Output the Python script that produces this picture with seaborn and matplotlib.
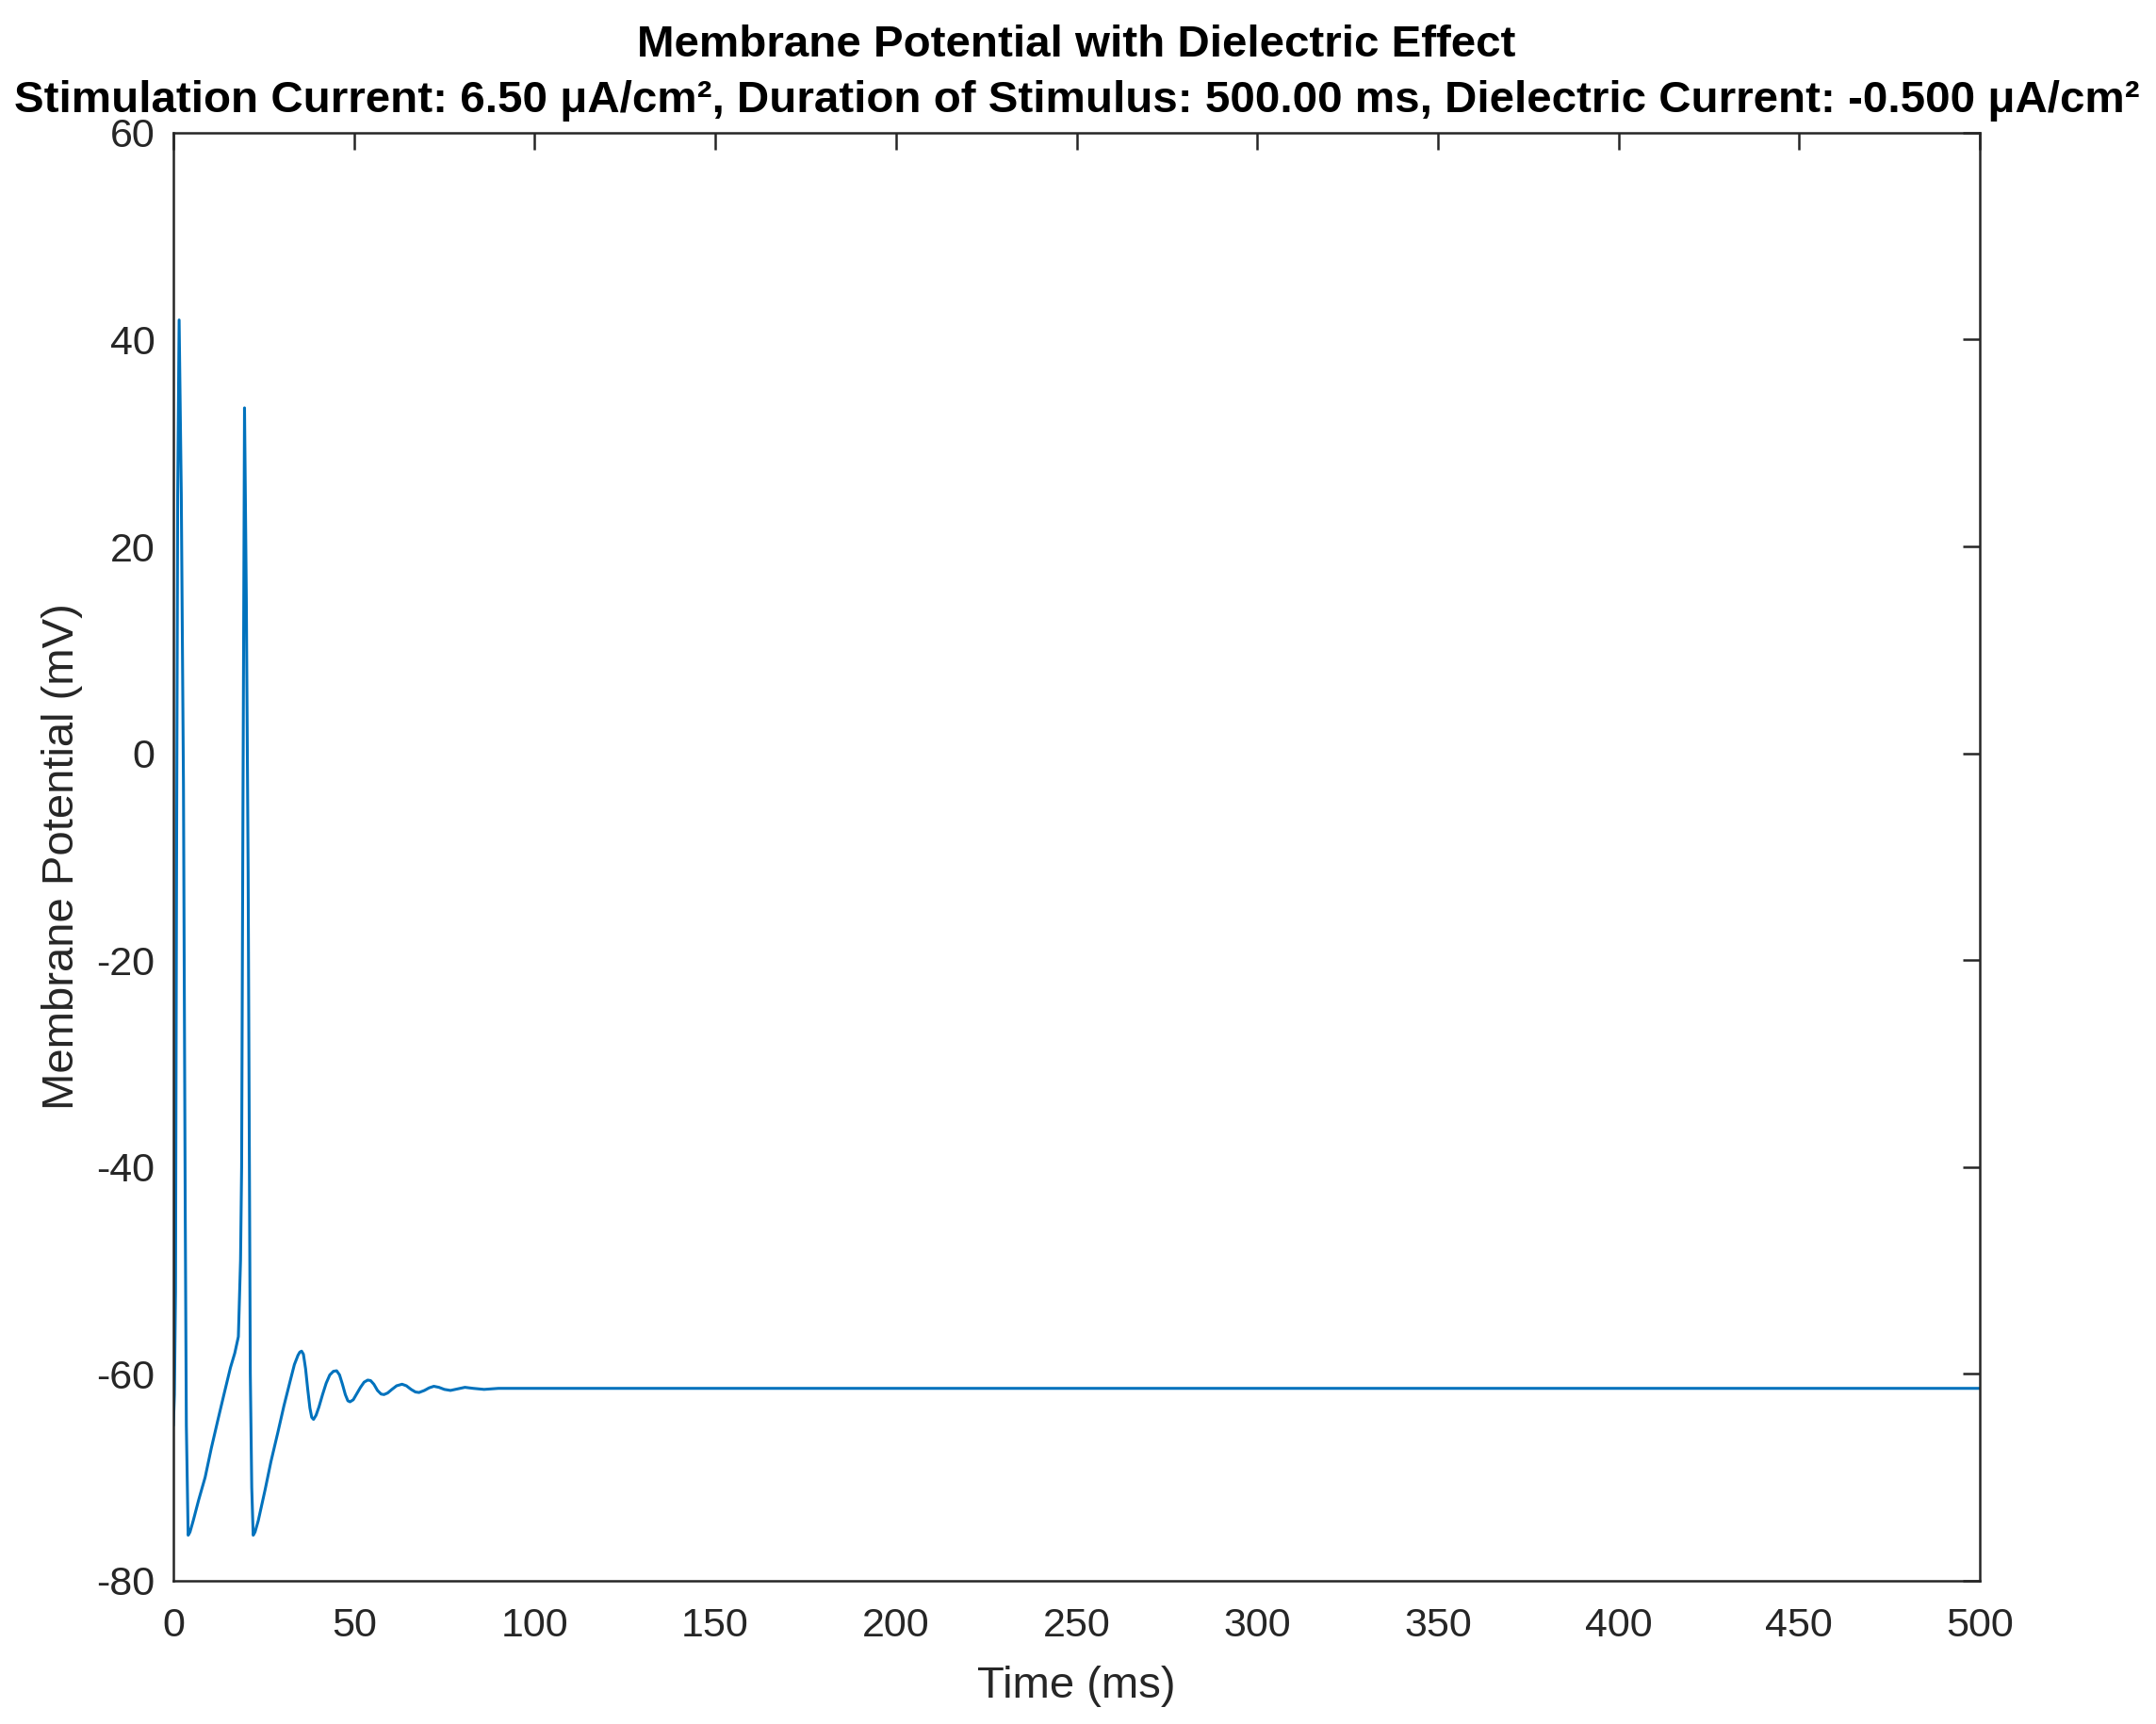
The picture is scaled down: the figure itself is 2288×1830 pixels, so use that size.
import numpy as np
import pandas as pd
import matplotlib
matplotlib.use("Agg")
import matplotlib.pyplot as plt
import seaborn as sns

# Values (time in ms, potential in mV)
time_ms = [0, 0.3, 0.6, 0.9, 1.2, 1.6, 2.2, 2.8, 3.3, 3.6, 4.1,
           4.6, 5.5, 7.0, 8.8, 10.5, 12.3, 14.0, 15.8, 17.0, 18.0,
           18.6, 18.9, 19.2, 19.7, 20.2, 20.7, 21.3, 21.7, 22.1,
           22.6, 23.5, 25.4, 27.0, 28.9, 30.6, 32.4, 33.5, 34.5, 35.0, 35.5,
           36.0, 36.6, 37.2, 37.8, 38.3, 38.8, 39.5, 40.3, 41.3, 42.3,
           43.3, 44.3, 45.2, 46.0, 46.8, 47.6, 48.3, 48.9, 49.8, 50.8,
           51.8, 52.8, 53.8, 54.6, 55.5, 56.5, 57.5, 58.3, 59.3, 60.5,
           61.8, 63.3, 64.5, 65.8, 67.0, 68.0, 69.5, 70.8, 72.1, 73.5,
           75.0, 76.7, 78.7, 80.7, 83.0, 86.0, 90.0, 100.0,
           150.0, 200.0, 300.0, 400.0, 500.0]
potential_mv = [-65, -62, -52, -10, 25, 41.9, 25, -3, -45, -65, -75.6,
                -75.3, -74.2, -72.2, -70, -67.2, -64.5, -62, -59.4, -58, -56.4,
                -49, -40, -11.5, 33.4, 15, -11.5, -60, -71, -75.6,
                -75.3, -74.2, -71.2, -68.5, -65.7, -63.1, -60.6, -59.1, -58.2, -57.9, -57.8,
                -58.1, -59.5, -61.5, -63.3, -64.2, -64.4, -64.0, -63.2, -62.0, -60.9,
                -60.1, -59.75, -59.7, -60.1, -61.0, -62.0, -62.6, -62.7, -62.5, -61.9,
                -61.3, -60.8, -60.6, -60.65, -61.0, -61.6, -61.95, -62.0, -61.85, -61.5,
                -61.15, -61.0, -61.15, -61.5, -61.75, -61.8, -61.6, -61.35, -61.2, -61.3,
                -61.5, -61.6, -61.45, -61.3, -61.4, -61.5, -61.4, -61.4,
                -61.4, -61.4, -61.4, -61.4, -61.4]

x_ticks = list(range(0, 501, 50))
y_ticks = list(range(-80, 61, 20))

title_text = ("Membrane Potential with Dielectric Effect\n"
              "Stimulation Current: 6.50 \u03bcA/cm\u00b2, Duration of Stimulus: 500.00 ms, "
              "Dielectric Current: -0.500 \u03bcA/cm\u00b2")

sns.set_style("white")
plt.rcParams['font.family'] = ['Liberation Sans', 'DejaVu Sans']
plt.rcParams['axes.unicode_minus'] = False

df = pd.DataFrame({"Time (ms)": time_ms, "Membrane Potential (mV)": potential_mv})

fig = plt.figure(figsize=(11.44, 9.15), dpi=200)
ax = fig.add_axes([0.0804, 0.0831, 0.8379, 0.8399])

sns.lineplot(data=df, x="Time (ms)", y="Membrane Potential (mV)", ax=ax,
             sort=False, estimator=None, color="#0072BD", linewidth=1.1)

ax.set_xlim(0, 500)
ax.set_ylim(-80, 60)
ax.set_xticks(x_ticks)
ax.set_yticks(y_ticks)

# MATLAB-like box with inward ticks on every side
for side in ["top", "right", "bottom", "left"]:
    ax.spines[side].set_visible(True)
    ax.spines[side].set_color("#262626")
    ax.spines[side].set_linewidth(0.9)
ax.tick_params(direction="in", length=6.5, width=0.9, color="#262626",
               top=True, right=True, labelsize=15.5, labelcolor="#262626")
ax.tick_params(axis="x", pad=10)
ax.tick_params(axis="y", pad=7)

ax.set_xlabel("Time (ms)", fontsize=17, color="#262626", labelpad=8)
ax.set_ylabel("Membrane Potential (mV)", fontsize=17, color="#262626", labelpad=5)
ax.set_title(title_text, fontsize=17.1, fontweight="bold", color="black",
             linespacing=1.44, pad=8)

fig.savefig("out.png", dpi=200, facecolor="white")
